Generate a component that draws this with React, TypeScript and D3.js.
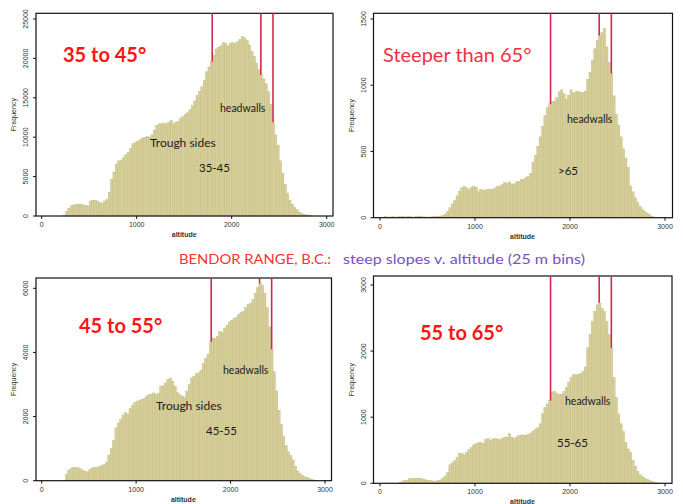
import React, { useEffect, useRef } from "react";
import * as d3 from "d3";

// 25 m altitude bins, counts (first value = bin starting at *Start)
const p1Start = 225;
const p1Counts = [
  100, 600, 1000, 1300, 1400, 1500, 1500, 1500, 1400, 1300, 1300,
  1900, 2000, 2000, 1900, 1700, 1600, 1900, 2100, 3000, 4600,
  5600, 6600, 7000, 7100, 7400, 7800, 8100, 8600, 9200, 9300,
  9500, 9700, 9900, 10000, 10100, 10000, 10300, 10900, 11500, 11700,
  11700, 11800, 11700, 11900, 12100, 11700, 11900, 12000, 12400, 12600,
  12900, 13100, 13500, 14000, 14600, 15300, 15800, 16400, 17200, 18300,
  18900, 19600, 20400, 21200, 21400, 21600, 22000, 21900, 21600, 21900,
  22000, 21900, 22100, 22400, 22800, 22600, 22300, 21700, 20900, 20300,
  19400, 18600, 17900, 17400, 16800, 15800, 14200, 11900, 10300, 9000,
  7000, 5400, 4000, 2900, 2000, 1500, 1100, 800, 500, 300,
  200, 150, 100, 50,
];

const p2Start = 0;
const p2Counts = [
  3, 5, 8, 3, 5, 8, 4, 6, 8, 8, 6, 8, 7, 6, 5, 9, 12, 8, 6, 5,
  5, 6, 7, 8, 10, 12, 18, 28, 45, 75, 105, 130, 165, 200, 225, 235, 225, 215, 230, 235,
  230, 195, 215, 205, 210, 215, 215, 215, 225, 235, 240, 250, 265, 260, 270, 255, 255, 270, 275, 290,
  290, 305, 310, 335, 420, 470, 540, 610, 690, 770, 830, 860, 875, 880, 905, 950, 965, 935, 895, 925,
  965, 940, 950, 955, 945, 945, 955, 1045, 1100, 1190, 1275, 1340, 1375, 1400, 1430, 1290, 1170, 1090, 920, 780,
  700, 610, 520, 450, 380, 240, 195, 150, 115, 85, 65, 48, 35, 22, 12, 5,
];

const p3Start = 250;
const p3Counts = [
  200, 330, 390, 410, 410, 400, 370, 320, 290, 280,
  360, 400, 415, 415, 440, 470, 500, 580, 800, 1000,
  1250, 1650, 1800, 1900, 2050, 2120, 2080, 2250, 2350, 2440,
  2480, 2500, 2540, 2560, 2640, 2680, 2700, 2740, 2700, 2720,
  2950, 2960, 3050, 3150, 3200, 3100, 2950, 2750, 2680, 2640,
  2600, 2780, 3000, 3200, 3260, 3340, 3360, 3450, 3650, 3820,
  3950, 4330, 4450, 4440, 4500, 4650, 4620, 4760, 4850, 4950,
  5000, 5060, 5100, 5180, 5250, 5280, 5400, 5500, 5530, 5650,
  5850, 6020, 6150, 6100, 5850, 5400, 4800, 4100, 3400, 2800,
  2200, 1750, 1380, 1100, 900, 780, 650, 450, 300, 230,
  160, 120, 100, 70, 45, 20,
];

const p4Start = 200;
const p4Counts = [
  10, 25, 40, 45, 70, 75, 70, 75, 75, 70, 60, 50, 45, 40, 25, 35, 40, 50, 80, 110,
  160, 280, 310, 340, 390, 450, 450, 430, 470, 510, 540, 580, 600, 610, 620, 600, 660, 680, 650, 670,
  680, 670, 660, 680, 700, 700, 750, 700, 680, 700, 720, 730, 730, 730, 740, 760, 790, 820, 840, 900,
  1050, 1150, 1200, 1250, 1380, 1390, 1360, 1340, 1350, 1390, 1450, 1530, 1600, 1650, 1640, 1650, 1660, 1690, 1760, 2050,
  2250, 2450, 2600, 2700, 2730, 2650, 2600, 2450, 2250, 2050, 1600, 1300, 1050, 900, 780, 620, 520, 470, 350, 260,
  180, 130, 100, 80, 60, 45, 30, 20, 10,
];

const BIN = 25;
const xTicks = [0, 1000, 2000, 3000];
const markers = [1795, 2307, 2435];

const PANELS = [
  {
    title: "35 to 45°", bold: true, tx: 63, ty: 62, tsize: 20,
    box: [36, 13.3, 333, 216], xr: [41.7, 326.7], yTop: 19, yMax: 25000,
    yTicks: [0, 5000, 10000, 15000, 20000, 25000],
    start: p1Start, counts: p1Counts,
    notes: [["headwalls", 220, 112, 10.5], ["Trough sides", 150, 147, 12], ["35-45", 199, 172, 11.5]],
  },
  {
    title: "Steeper than 65°", bold: false, tx: 383, ty: 62, tsize: 20,
    box: [373.5, 13.3, 672.5, 217.7], xr: [380, 665], yTop: 19, yMax: 1500,
    yTicks: [0, 500, 1000, 1500],
    start: p2Start, counts: p2Counts,
    notes: [["headwalls", 567, 123, 10.5], [">65", 558, 175, 11.5]],
  },
  {
    title: "45 to 55°", bold: true, tx: 79, ty: 333, tsize: 20,
    box: [36, 278, 331.5, 480.7], xr: [41.7, 325], yTop: 288.3, yMax: 6000,
    yTicks: [0, 2000, 4000, 6000],
    start: p3Start, counts: p3Counts,
    notes: [["headwalls", 223, 374, 10.5], ["Trough sides", 156, 410, 12], ["45-55", 206, 435, 11.5]],
  },
  {
    title: "55 to 65°", bold: true, tx: 420, ty: 340, tsize: 20,
    box: [373.5, 276, 672, 483.3], xr: [380, 665], yTop: 285, yMax: 3000,
    yTicks: [0, 1000, 2000, 3000],
    start: p4Start, counts: p4Counts,
    notes: [["headwalls", 565, 405, 10.5], ["55-65", 557, 447, 11.5]],
  },
];

const FONT = "Lato, 'Open Sans', sans-serif";
const SMALL = "'Liberation Sans', Arial, sans-serif";

export default function App() {
  const svgRef = useRef<SVGSVGElement | null>(null);

  useEffect(() => {
    if (!svgRef.current) return;
    const svg = d3.select(svgRef.current);
    svg.selectAll("*").remove();

    svg.append("rect").attr("width", 683).attr("height", 504).attr("fill", "#fff");

    PANELS.forEach((p) => {
      const [l, t, r, b] = p.box;
      const x = d3.scaleLinear().domain([0, 3000]).range(p.xr);
      const y = d3.scaleLinear().domain([0, p.yMax]).range([b, p.yTop]);
      const g = svg.append("g");

      // bars
      g.selectAll("rect.bar")
        .data(p.counts)
        .join("rect")
        .attr("class", "bar")
        .attr("x", (_, i) => x(p.start + i * BIN))
        .attr("width", x(BIN) - x(0))
        .attr("y", (d) => y(d))
        .attr("height", (d) => b - y(d))
        .attr("fill", "#d6cf9a")
        .attr("stroke", "#c3ba82")
        .attr("stroke-width", 0.45);

      // frame
      g.append("rect")
        .attr("x", l).attr("y", t)
        .attr("width", r - l).attr("height", b - t)
        .attr("fill", "none").attr("stroke", "#111").attr("stroke-width", 1.2);

      // x ticks
      xTicks.forEach((v) => {
        g.append("line")
          .attr("x1", x(v)).attr("x2", x(v)).attr("y1", b).attr("y2", b + 3)
          .attr("stroke", "#111").attr("stroke-width", 1);
        g.append("text")
          .attr("x", x(v)).attr("y", b + 11)
          .attr("text-anchor", "middle")
          .attr("font-family", SMALL).attr("font-size", "7px").attr("fill", "#333")
          .text(v);
      });
      g.append("text")
        .attr("x", (p.xr[0] + p.xr[1]) / 2).attr("y", b + 21)
        .attr("text-anchor", "middle")
        .attr("font-family", SMALL).attr("font-size", "7px").attr("font-weight", "bold").attr("fill", "#333")
        .text("altitude");

      // y ticks
      p.yTicks.forEach((v) => {
        g.append("line")
          .attr("x1", l - 3).attr("x2", l).attr("y1", y(v)).attr("y2", y(v))
          .attr("stroke", "#111").attr("stroke-width", 1);
        g.append("text")
          .attr("transform", `translate(${l - 8},${y(v)}) rotate(-90)`)
          .attr("text-anchor", "middle")
          .attr("font-family", SMALL).attr("font-size", "7px").attr("fill", "#333")
          .text(v);
      });
      g.append("text")
        .attr("transform", `translate(${l - 20},${(t + b) / 2}) rotate(-90)`)
        .attr("text-anchor", "middle")
        .attr("font-family", SMALL).attr("font-size", "7px").attr("fill", "#333")
        .text("Frequency");

      // headwall markers
      markers.forEach((m) => {
        const idx = Math.floor((m - p.start) / BIN);
        const v = p.counts[idx] ?? 0;
        g.append("line")
          .attr("x1", x(m)).attr("x2", x(m))
          .attr("y1", t).attr("y2", y(v))
          .attr("stroke", "#d3264c").attr("stroke-width", 1.6);
      });

      // notes
      p.notes.forEach(([txt, nx, ny, fs]) => {
        g.append("text")
          .attr("x", nx as number).attr("y", ny as number)
          .attr("font-family", FONT).attr("font-size", `${fs}px`)
          .attr("fill", "#1a1a1a")
          .text(txt as string);
      });

      // title
      g.append("text")
        .attr("x", p.tx).attr("y", p.ty)
        .attr("font-family", FONT).attr("font-size", `${p.tsize}px`)
        .attr("font-weight", p.bold ? "bold" : "normal")
        .attr("fill", p.bold ? "#ff1414" : "#f0303f")
        .text(p.title);
    });

    // caption
    svg.append("text")
      .attr("x", 179).attr("y", 263.5)
      .attr("font-family", FONT).attr("font-size", "14px").attr("fill", "#ff3030")
      .attr("textLength", 152).attr("lengthAdjust", "spacingAndGlyphs")
      .text("BENDOR RANGE, B.C.:");
    svg.append("text")
      .attr("x", 343).attr("y", 263.5)
      .attr("font-family", FONT).attr("font-size", "14px").attr("fill", "#7a4fc2")
      .attr("textLength", 242).attr("lengthAdjust", "spacingAndGlyphs")
      .text("steep slopes v. altitude (25 m bins)");
  }, []);

  return (
    <svg
      ref={svgRef}
      width={683}
      height={504}
      style={{ position: "absolute", left: 0, top: 0, display: "block" }}
    />
  );
}
